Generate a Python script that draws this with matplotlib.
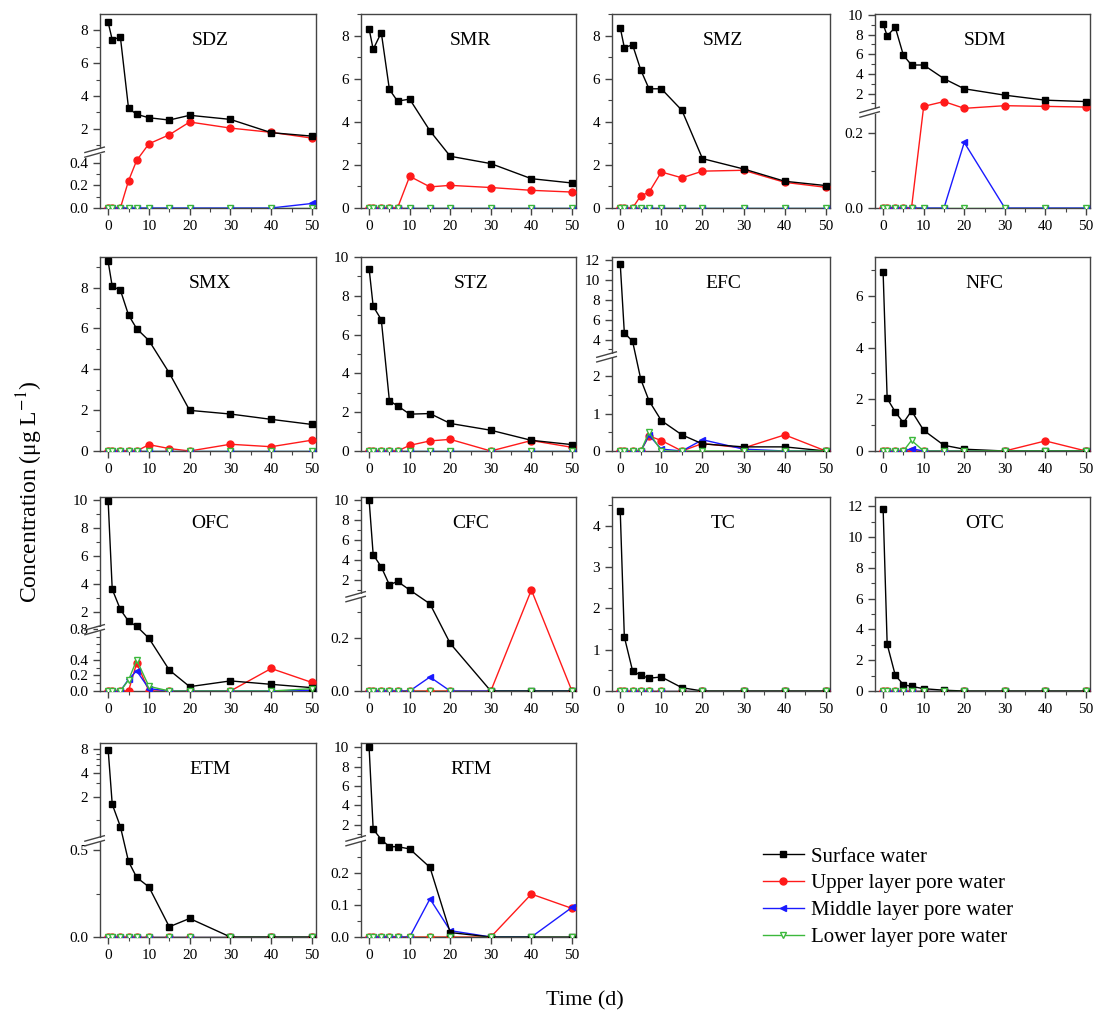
import numpy as np
import matplotlib
matplotlib.use("Agg")
import matplotlib.pyplot as plt
from matplotlib.ticker import AutoMinorLocator, MultipleLocator

plt.rcParams['font.family'] = ['Liberation Serif', 'DejaVu Serif']
plt.rcParams['mathtext.fontset'] = 'stix'

# sampling days
days = [0, 1, 3, 5, 7, 10, 15, 20, 30, 40, 50]
zero = [0] * 11

# concentrations (ug/L): surface, upper, middle, lower layer pore water
SDZ_surf = [8.49, 7.43, 7.59, 3.25, 2.88, 2.67, 2.53, 2.82, 2.57, 1.76, 1.55]
SDZ_up = [0, 0, 0, 0.24, 0.42, 1.08, 1.63, 2.41, 2.04, 1.78, 1.43]
SDZ_mid = [0, 0, 0, 0, 0, 0, 0, 0, 0, 0, 0.04]

SMR_surf = [8.31, 7.36, 8.14, 5.50, 4.96, 5.05, 3.58, 2.40, 2.06, 1.36, 1.16]
SMR_up = [0, 0, 0, 0, 0, 1.47, 0.98, 1.05, 0.95, 0.82, 0.74]

SMZ_surf = [8.37, 7.44, 7.57, 6.40, 5.53, 5.53, 4.53, 2.29, 1.81, 1.24, 1.04]
SMZ_up = [0, 0, 0, 0.57, 0.73, 1.67, 1.40, 1.71, 1.75, 1.19, 0.96]

SDM_surf = [9.08, 7.88, 8.74, 5.90, 4.91, 4.91, 3.52, 2.49, 1.84, 1.33, 1.19]
SDM_up = [0, 0, 0, 0, 0, 0.70, 1.19, 0.50, 0.77, 0.70, 0.63]
SDM_mid = [0, 0, 0, 0, 0, 0, 0, 0.175, 0, 0, 0]

SMX_surf = [9.28, 8.06, 7.88, 6.66, 5.99, 5.41, 3.82, 1.99, 1.81, 1.55, 1.30]
SMX_up = [0, 0, 0, 0, 0, 0.31, 0.12, 0, 0.33, 0.21, 0.53]

STZ_surf = [9.40, 7.46, 6.77, 2.59, 2.33, 1.90, 1.93, 1.42, 1.07, 0.55, 0.33]
STZ_up = [0, 0, 0, 0, 0, 0.29, 0.52, 0.60, 0, 0.54, 0.19]

EFC_surf = [11.64, 4.66, 3.83, 1.91, 1.34, 0.81, 0.43, 0.19, 0.11, 0.11, 0]
EFC_up = [0, 0, 0, 0, 0.40, 0.28, 0, 0.20, 0.08, 0.43, 0]
EFC_mid = [0, 0, 0, 0, 0.42, 0.05, 0, 0.30, 0.05, 0, 0]
EFC_low = [0, 0, 0, 0, 0.50, 0, 0, 0, 0, 0, 0]

NFC_surf = [6.91, 2.03, 1.51, 1.09, 1.55, 0.80, 0.22, 0.07, 0, 0, 0]
NFC_up = [0, 0, 0, 0, 0, 0, 0, 0, 0, 0.39, 0]
NFC_mid = [0, 0, 0, 0, 0.09, 0, 0, 0, 0, 0, 0]
NFC_low = [0, 0, 0, 0, 0.41, 0, 0, 0, 0, 0, 0]

OFC_surf = [9.95, 3.64, 2.19, 1.35, 0.99, 0.68, 0.27, 0.056, 0.13, 0.086, 0.043]
OFC_up = [0, 0, 0, 0, 0.36, 0, 0, 0, 0, 0.29, 0.11]
OFC_mid = [0, 0, 0, 0.15, 0.26, 0.03, 0, 0, 0, 0, 0.01]
OFC_low = [0, 0, 0, 0.14, 0.40, 0.06, 0, 0, 0, 0, 0.03]

CFC_surf = [10.0, 4.54, 3.30, 1.51, 1.85, 1.0, 0.33, 0.18, 0, 0, 0]
CFC_up = [0, 0, 0, 0, 0, 0, 0, 0, 0, 1.0, 0]
CFC_mid = [0, 0, 0, 0, 0, 0, 0.053, 0, 0, 0, 0]

TC_surf = [4.37, 1.31, 0.49, 0.38, 0.31, 0.34, 0.08, 0, 0, 0, 0]
OTC_surf = [11.85, 3.04, 1.02, 0.41, 0.30, 0.15, 0.05, 0, 0, 0, 0]

ETM_surf = [7.96, 1.60, 0.83, 0.436, 0.344, 0.289, 0.059, 0.107, 0, 0, 0]

RTM_surf = [10.0, 1.54, 0.45, 0.284, 0.284, 0.277, 0.219, 0.014, 0, 0, 0]
RTM_up = [0, 0, 0, 0, 0, 0, 0, 0, 0, 0.135, 0.09]
RTM_mid = [0, 0, 0, 0, 0, 0, 0.12, 0.02, 0, 0, 0.093]

panels = [
    ("SDZ", SDZ_surf, SDZ_up, SDZ_mid, zero),
    ("SMR", SMR_surf, SMR_up, zero, zero),
    ("SMZ", SMZ_surf, SMZ_up, zero, zero),
    ("SDM", SDM_surf, SDM_up, SDM_mid, zero),
    ("SMX", SMX_surf, SMX_up, zero, zero),
    ("STZ", STZ_surf, STZ_up, zero, zero),
    ("EFC", EFC_surf, EFC_up, EFC_mid, EFC_low),
    ("NFC", NFC_surf, NFC_up, NFC_mid, NFC_low),
    ("OFC", OFC_surf, OFC_up, OFC_mid, OFC_low),
    ("CFC", CFC_surf, CFC_up, CFC_mid, zero),
    ("TC", TC_surf, zero, zero, zero),
    ("OTC", OTC_surf, zero, zero, zero),
    ("ETM", ETM_surf, zero, zero, zero),
    ("RTM", RTM_surf, RTM_up, RTM_mid, zero),
]

# plain axes: (ymax, major ticks)
linear = {
    "SMR": (9.0, [0, 2, 4, 6, 8]),
    "SMZ": (9.0, [0, 2, 4, 6, 8]),
    "SMX": (9.5, [0, 2, 4, 6, 8]),
    "STZ": (10.0, [0, 2, 4, 6, 8, 10]),
    "NFC": (7.5, [0, 2, 4, 6]),
    "TC": (4.7, [0, 1, 2, 3, 4]),
    "OTC": (12.6, [0, 2, 4, 6, 8, 10, 12]),
}

# broken axes: lower top, upper start, break fraction, ymax, upper kind,
# lower labels, upper labels, lower minor, upper minor
broken = {
    "SDZ": (0.5, 0.62, 0.292, 9.0, "lin", ["0.0", "0.2", "0.4"], [2, 4, 6, 8],
            [0.1, 0.3], [1, 3, 5, 7]),
    "SDM": (0.258, 0.19, 0.498, 10.1, "lin", ["0.0", "0.2"], [2, 4, 6, 8, 10],
            [0.1], [1, 3, 5, 7, 9]),
    "EFC": (2.53, 2.33, 0.489, 12.3, "lin", ["0", "1", "2"], [4, 6, 8, 10, 12],
            [0.5, 1.5], [3, 5, 7, 9, 11]),
    "OFC": (0.8, 0.8, 0.32, 10.24, "lin", ["0.0", "0.2", "0.4", "0.8"], [2, 4, 6, 8, 10],
            [0.1, 0.3, 0.5, 0.6, 0.7], [1, 3, 5, 7, 9]),
    "CFC": (0.36, 0.4, 0.49, 10.3, "lin", ["0.0", "0.2"], [2, 4, 6, 8, 10],
            [0.1, 0.3], [1, 3, 5, 7, 9]),
    "ETM": (0.56, 0.56, 0.50, 9.65, "log", ["0.0", "0.5"], [2, 4, 8],
            [0.25], [1, 3, 5, 6, 7]),
    "RTM": (0.305, 0.41, 0.50, 10.45, "lin", ["0.0", "0.1", "0.2"], [2, 4, 6, 8, 10],
            [0.05, 0.15, 0.25], [1, 3, 5, 7, 9]),
}


def make_scale(lo, hi, f, top, kind):
    def fwd(y):
        y = np.asarray(y, dtype=float)
        if kind == "log":
            up = f + np.log(np.maximum(y, 1e-9) / hi) / np.log(top / hi) * (1 - f)
        else:
            up = f + (y - hi) / (top - hi) * (1 - f)
        return np.where(y <= lo, y / lo * f, up)

    def inv(s):
        s = np.asarray(s, dtype=float)
        if kind == "log":
            up = hi * np.exp((s - f) / (1 - f) * np.log(top / hi))
        else:
            up = hi + (s - f) / (1 - f) * (top - hi)
        return np.where(s <= f, s / f * lo, up)
    return fwd, inv


W, H = 1103, 1024
rows = [(14, 208), (257, 451), (497, 691), (743, 937)]
cols = [(100, 316), (361, 576), (612, 830), (875, 1090)]

fig = plt.figure(figsize=(W / 100, H / 100), dpi=100)

c_surf, c_up, c_mid, c_low = "black", "#ff1a1a", "#1a1aff", "#3cb83c"
spine_c = "#444444"

handles = None
for i, (name, surf, up, mid, low) in enumerate(panels):
    r, c = divmod(i, 4)
    t, b = rows[r]
    lft, rgt = cols[c]
    ax = fig.add_axes([lft / W, (H - b) / H, (rgt - lft) / W, (b - t) / H])

    l1, = ax.plot(days, surf, color=c_surf, marker="s", ms=5, lw=1.0, zorder=4)
    l2, = ax.plot(days, up, color=c_up, marker="o", ms=5, lw=1.0, zorder=3)
    l3, = ax.plot(days, mid, color=c_mid, marker="<", ms=5, lw=1.0, zorder=3)
    l4, = ax.plot(days, low, color=c_low, marker="v", ms=4, lw=1.0, mfc="white",
                  mec=c_low, zorder=5)
    if handles is None:
        handles = [l1, l2, l3, l4]

    if name in broken:
        lo, hi, f, top, kind, lo_lab, up_lab, lo_min, up_min = broken[name]
        ax.set_yscale("function", functions=make_scale(lo, hi, f, top, kind))
        ax.set_ylim(0, top)
        lo_vals = [float(v) for v in lo_lab]
        ax.set_yticks(lo_vals + up_lab)
        ax.set_yticklabels(lo_lab + [str(v) for v in up_lab])
        ax.set_yticks(lo_min + up_min, minor=True)
        # break mark on the left spine
        ax.add_patch(plt.Rectangle((-0.01, f - 0.012), 0.02, 0.024, transform=ax.transAxes,
                                   facecolor="white", edgecolor="none", clip_on=False, zorder=6))
        for dy in (-0.012, 0.012):
            ax.plot([-0.07, 0.02], [f + dy - 0.018, f + dy + 0.01], color=spine_c, lw=1.0,
                    transform=ax.transAxes, clip_on=False, zorder=7)
    else:
        top, ticks = linear[name]
        ax.set_ylim(0, top)
        ax.set_yticks(ticks)
        ax.yaxis.set_minor_locator(AutoMinorLocator(2))

    ax.set_xlim(-2, 51)
    ax.xaxis.set_major_locator(MultipleLocator(10))
    ax.xaxis.set_minor_locator(MultipleLocator(5))
    ax.tick_params(which="both", direction="out", colors=spine_c, labelcolor="black",
                   labelsize=11, right=False, top=False)
    ax.tick_params(which="major", length=5, width=1.0)
    ax.tick_params(which="minor", length=3, width=0.8)
    for sp in ax.spines.values():
        sp.set_color(spine_c)
        sp.set_linewidth(1.0)
    ax.text(0.51, 0.865, name, transform=ax.transAxes, ha="center", va="center", fontsize=14)

fig.text(0.027, 0.52, "Concentration (\u03bcg L$^{-1}$)", rotation=90, ha="center",
         va="center", fontsize=17)
fig.text(0.53, 0.023, "Time (d)", ha="center", va="center", fontsize=16)

fig.legend(handles, ["Surface water", "Upper layer pore water", "Middle layer pore water",
                     "Lower layer pore water"],
           loc="upper left", bbox_to_anchor=(0.682, 0.183), frameon=False, fontsize=15,
           handlelength=2.0, handletextpad=0.3, labelspacing=0.35, borderpad=0)

fig.savefig("out.png", dpi=100)
